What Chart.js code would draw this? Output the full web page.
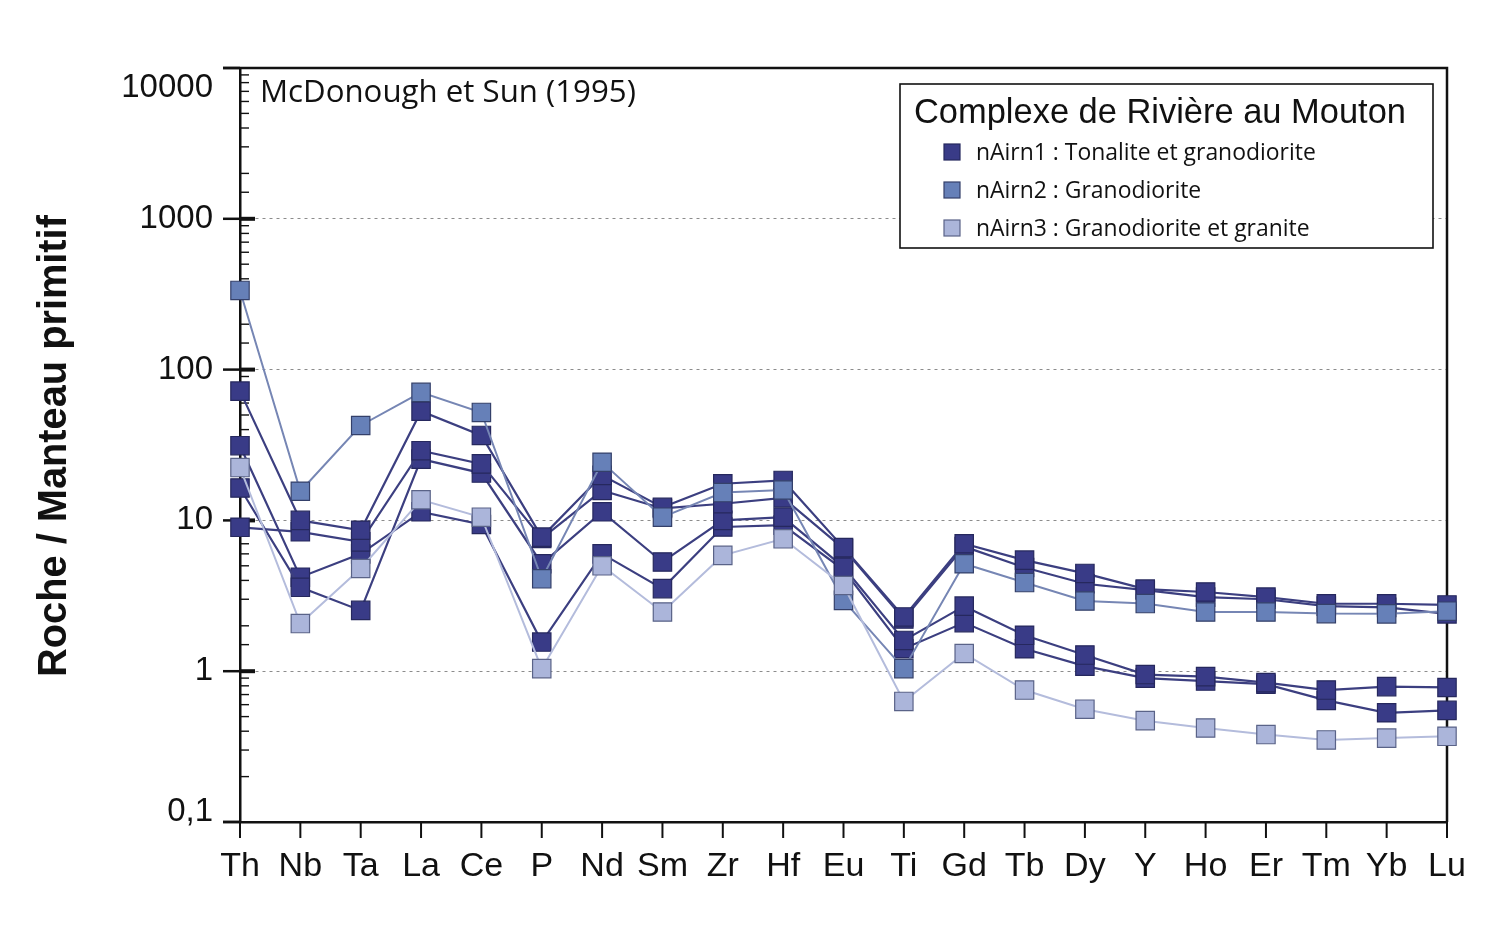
<!DOCTYPE html>
<html>
<head>
<meta charset="utf-8">
<title>Complexe de Rivière au Mouton - spider diagram</title>
<script src="https://cdn.jsdelivr.net/npm/chart.js@4.4.1/dist/chart.umd.min.js"></script>
<style>
  html, body { margin: 0; padding: 0; background: #fff; }
  #wrap { width: 1499px; height: 928px; position: relative; }
</style>
</head>
<body>
<div id="wrap"><canvas id="spider"></canvas></div>
<script>
// elements, normalised to primitive mantle (McDonough & Sun 1995)
const elements = ['Th', 'Nb', 'Ta', 'La', 'Ce', 'P', 'Nd', 'Sm', 'Zr', 'Hf', 'Eu',
  'Ti', 'Gd', 'Tb', 'Dy', 'Y', 'Ho', 'Er', 'Tm', 'Yb', 'Lu'];

// nAirn1 : four samples
const nAirn1a = [72, 10, 8.6, 53, 36.6, 7.75, 19.9, 12.2, 17.5, 18.4, 6.6, 2.29, 7.0, 5.45, 4.45, 3.5, 3.35, 3.1, 2.8, 2.8, 2.75];
const nAirn1b = [9.0, 8.4, 7.2, 29, 23.7, 7.6, 15.8, 12.0, 12.9, 14.1, 6.5, 2.22, 6.7, 4.87, 3.8, 3.45, 3.1, 3.0, 2.7, 2.65, 2.4];
const nAirn1c = [16.4, 3.6, 2.53, 25.5, 20.6, 5.16, 11.4, 5.3, 10.0, 10.5, 4.9, 1.6, 2.7, 1.73, 1.28, 0.95, 0.92, 0.84, 0.75, 0.79, 0.78];
const nAirn1d = [31.3, 4.2, 6.0, 11.4, 9.4, 1.56, 6.0, 3.53, 9.04, 9.3, 4.7, 1.41, 2.1, 1.41, 1.08, 0.9, 0.86, 0.82, 0.64, 0.53, 0.55];
// nAirn2 : one sample
const nAirn2 = [335, 15.6, 42.6, 70.6, 52, 4.1, 24.3, 10.5, 15.3, 15.9, 2.95, 1.04, 5.16, 3.87, 2.92, 2.81, 2.47, 2.47, 2.41, 2.4, 2.5];
// nAirn3 : one sample
const nAirn3 = [22.4, 2.07, 4.8, 13.7, 10.5, 1.04, 5.0, 2.47, 5.86, 7.55, 3.7, 0.63, 1.31, 0.75, 0.56, 0.47, 0.42, 0.38, 0.35, 0.36, 0.37];

const yDecades = [0.1, 1, 10, 100, 1000, 10000];

const legendTitle = 'Complexe de Rivière au Mouton';
const legendItems = [
  'nAirn1 : Tonalite et granodiorite',
  'nAirn2 : Granodiorite',
  'nAirn3 : Granodiorite et granite'
];

const COLORS = {
  dark: { fill: '#393b87', edge: '#26285e', line: '#3c3f80' },
  mid: { fill: '#6680b8', edge: '#34406a', line: '#7686b4' },
  light: { fill: '#abb5da', edge: '#5a6388', line: '#b4bcdc' }
};

function series(data, c, width) {
  return {
    data,
    borderColor: c.line,
    borderWidth: width,
    backgroundColor: c.fill,
    pointStyle: 'rect',
    pointRadius: 13,
    pointHoverRadius: 13,
    pointBackgroundColor: c.fill,
    pointBorderColor: c.edge,
    pointBorderWidth: 1.2,
    tension: 0,
    fill: false
  };
}

// first dataset is drawn on top, so the lighter groups go first
const datasets = [
  series(nAirn3, COLORS.light, 2),
  series(nAirn2, COLORS.mid, 2),
  series(nAirn1a, COLORS.dark, 2.2),
  series(nAirn1b, COLORS.dark, 2.2),
  series(nAirn1c, COLORS.dark, 2.2),
  series(nAirn1d, COLORS.dark, 2.2)
];

function isDecade(v) {
  if (!(v > 0)) return false;
  const l = Math.log10(v);
  return Math.abs(l - Math.round(l)) < 1e-6;
}

function fitFont(ctx, text, weight, family, width) {
  ctx.font = weight + ' 100px ' + family;
  const w = ctx.measureText(text).width;
  return 100 * width / w;
}

const frame = {
  id: 'frame',
  beforeDatasetsDraw(chart) {
    const { ctx, chartArea: a } = chart;
    const ys = chart.scales.y, xs = chart.scales.x;
    ctx.save();
    ctx.strokeStyle = '#111';
    ctx.lineCap = 'butt';
    // top and right frame
    ctx.lineWidth = 2.5;
    ctx.beginPath();
    ctx.moveTo(a.left - 17, a.top);
    ctx.lineTo(a.right, a.top);
    ctx.lineTo(a.right, a.bottom);
    ctx.stroke();
    // y ticks
    ys.ticks.forEach(t => {
      const y = ys.getPixelForValue(t.value);
      if (isDecade(t.value)) {
        ctx.lineWidth = 2.5;
        ctx.beginPath();
        ctx.moveTo(a.left - 17, y);
        ctx.lineTo(a.left, y);
        ctx.stroke();
        if (t.value > 0.1 && t.value < 10000) {
          ctx.lineWidth = 4;
          ctx.beginPath();
          ctx.moveTo(a.left, y);
          ctx.lineTo(a.left + 15, y);
          ctx.stroke();
        }
      } else {
        ctx.lineWidth = 1.4;
        ctx.beginPath();
        ctx.moveTo(a.left, y);
        ctx.lineTo(a.left + 9, y);
        ctx.stroke();
      }
    });
    // bottom axis reaches out to the 0,1 tick
    ctx.lineWidth = 2.5;
    ctx.beginPath();
    ctx.moveTo(a.left - 17, a.bottom);
    ctx.lineTo(a.left, a.bottom);
    ctx.stroke();
    // x ticks
    ctx.lineWidth = 2;
    elements.forEach((e, i) => {
      const x = xs.getPixelForValue(i);
      ctx.beginPath();
      ctx.moveTo(x, a.bottom);
      ctx.lineTo(x, a.bottom + 16);
      ctx.stroke();
    });

    // y tick labels
    ctx.fillStyle = '#111';
    ctx.font = '33px "Liberation Sans", Arial, sans-serif';
    ctx.textAlign = 'right';
    ctx.textBaseline = 'middle';
    yDecades.forEach(v => {
      let y = ys.getPixelForValue(v);
      y = Math.max(a.top + 20, Math.min(a.bottom - 10, y));
      const txt = v < 1 ? String(v).replace('.', ',') : String(v);
      ctx.fillText(txt, a.left - 27, y);
    });

    // y axis title
    const tsize = fitFont(ctx, 'Roche / Manteau primitif', 'bold', '"Liberation Sans", Arial, sans-serif', 462);
    ctx.save();
    ctx.translate(55, 446);
    ctx.rotate(-Math.PI / 2);
    ctx.font = 'bold ' + tsize + 'px "Liberation Sans", Arial, sans-serif';
    ctx.textAlign = 'center';
    ctx.textBaseline = 'middle';
    ctx.fillText('Roche / Manteau primitif', 0, 0);
    ctx.restore();

    // reference note
    const nsize = fitFont(ctx, 'McDonough et Sun (1995)', '', '"Open Sans", sans-serif', 376);
    ctx.font = nsize + 'px "Open Sans", sans-serif';
    ctx.textAlign = 'left';
    ctx.textBaseline = 'alphabetic';
    ctx.fillText('McDonough et Sun (1995)', 260, 102);
    ctx.restore();
  },
  afterDatasetsDraw(chart) {
    const { ctx } = chart;
    ctx.save();
    // legend box
    ctx.fillStyle = '#fff';
    ctx.fillRect(900, 84, 533, 164);
    ctx.strokeStyle = '#111';
    ctx.lineWidth = 1.6;
    ctx.strokeRect(900, 84, 533, 164);
    ctx.fillStyle = '#111';
    const hsize = fitFont(ctx, legendTitle, '', '"Liberation Sans", Arial, sans-serif', 492);
    ctx.font = hsize + 'px "Liberation Sans", Arial, sans-serif';
    ctx.textAlign = 'left';
    ctx.textBaseline = 'alphabetic';
    ctx.fillText(legendTitle, 914, 123);

    const isize = fitFont(ctx, legendItems[0], '', '"Open Sans", sans-serif', 340);
    const cols = [COLORS.dark, COLORS.mid, COLORS.light];
    const rows = [152, 190, 228];
    legendItems.forEach((txt, i) => {
      ctx.fillStyle = cols[i].fill;
      ctx.strokeStyle = cols[i].edge;
      ctx.lineWidth = 1.2;
      ctx.fillRect(944, rows[i] - 8, 16, 16);
      ctx.strokeRect(944, rows[i] - 8, 16, 16);
      ctx.fillStyle = '#111';
      ctx.font = isize + 'px "Open Sans", sans-serif';
      ctx.textBaseline = 'middle';
      ctx.fillText(txt, 976, rows[i] + 1);
    });
    ctx.restore();
  }
};

new Chart(document.getElementById('spider'), {
  type: 'line',
  data: { labels: elements, datasets },
  options: {
    responsive: true,
    maintainAspectRatio: false,
    animation: false,
    layout: { padding: { top: 68, right: 52, left: 0, bottom: 0 } },
    plugins: {
      legend: { display: false },
      tooltip: { enabled: false }
    },
    scales: {
      x: {
        type: 'category',
        offset: false,
        afterFit: s => { s.height = 106; },
        grid: { display: false, drawTicks: false },
        border: { display: true, color: '#111', width: 2.5 },
        ticks: {
          color: '#111',
          padding: 24,
          maxRotation: 0,
          autoSkip: false,
          font: { family: '"Liberation Sans", Arial, sans-serif', size: 34 }
        }
      },
      y: {
        type: 'logarithmic',
        min: 0.1,
        max: 10000,
        afterFit: s => { s.width = 240; },
        grid: {
          drawTicks: false,
          lineWidth: 1,
          color: c => {
            const v = c.tick ? c.tick.value : 0;
            return isDecade(v) && v > 0.1 && v < 10000 ? '#8c8c8c' : 'rgba(0,0,0,0)';
          }
        },
        border: { display: true, color: '#111', width: 2.5, dash: [3, 4] },
        ticks: { display: false }
      }
    }
  },
  plugins: [frame]
});
</script>
</body>
</html>
